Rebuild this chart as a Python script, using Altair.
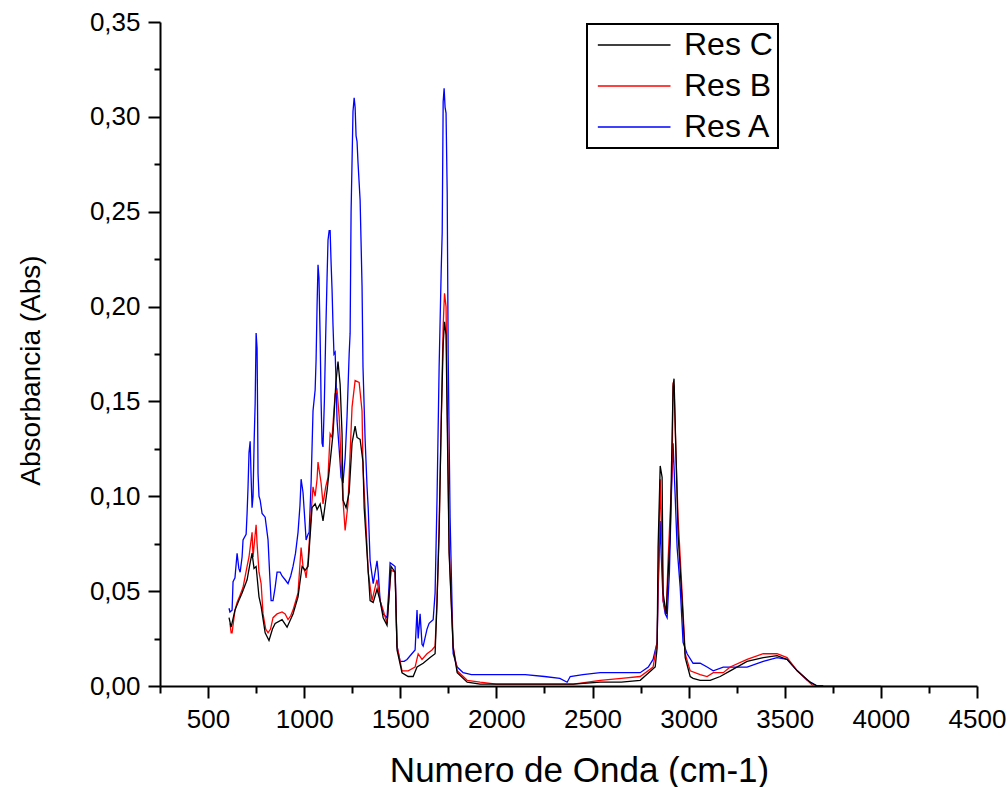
import altair as alt
import pandas as pd

# ---- data (wavenumber cm-1, absorbance) ----
wn_a = [609, 614, 625, 630, 640, 651, 660, 667, 677, 682, 698, 703, 708, 713, 719, 724, 729, 734, 740, 745,
        750, 755, 758, 760, 765, 771, 781, 797, 812, 820, 828, 838, 849, 859, 875, 885, 901, 916, 930, 942,
        955, 968, 978, 984, 994, 1005, 1010, 1020, 1026, 1036, 1046, 1057, 1062, 1067, 1072, 1077, 1083, 1088,
        1093, 1098, 1105, 1112, 1119, 1124, 1130, 1135, 1140, 1145, 1150, 1155, 1161, 1166, 1171, 1182, 1192,
        1202, 1213, 1223, 1234, 1239, 1244, 1254, 1260, 1265, 1270, 1275, 1280, 1291, 1301, 1306, 1317, 1327,
        1333, 1343, 1359, 1369, 1379, 1385, 1395, 1411, 1431, 1440, 1447, 1460, 1473, 1478, 1483, 1499, 1520,
        1535, 1560, 1577, 1587, 1593, 1603, 1613, 1619, 1639, 1650, 1671, 1681, 1691, 1702, 1713, 1718, 1723,
        1728, 1733, 1738, 1744, 1749, 1759, 1770, 1775, 1796, 1827, 1870, 1950, 2050, 2150, 2250, 2330, 2368,
        2384, 2450, 2540, 2650, 2748, 2790, 2815, 2836, 2841, 2852, 2857, 2867, 2878, 2888, 2900, 2910, 2919,
        2930, 2940, 2956, 2971, 2992, 3023, 3060, 3096, 3128, 3180, 3232, 3304, 3388, 3460, 3512, 3565, 3617,
        3669, 3700]
abs_a = [0.041, 0.039, 0.040, 0.055, 0.057, 0.070, 0.062, 0.060, 0.068, 0.077, 0.080, 0.091, 0.105, 0.123,
         0.129, 0.110, 0.094, 0.100, 0.130, 0.149, 0.186, 0.178, 0.140, 0.112, 0.100, 0.098, 0.091, 0.089,
         0.077, 0.060, 0.045, 0.045, 0.052, 0.060, 0.060, 0.058, 0.056, 0.054, 0.058, 0.063, 0.070, 0.081,
         0.095, 0.109, 0.102, 0.085, 0.077, 0.080, 0.081, 0.107, 0.145, 0.156, 0.172, 0.200, 0.222, 0.215,
         0.184, 0.150, 0.128, 0.126, 0.150, 0.185, 0.215, 0.235, 0.240, 0.240, 0.223, 0.209, 0.190, 0.175,
         0.176, 0.160, 0.140, 0.125, 0.110, 0.107, 0.120, 0.142, 0.175, 0.186, 0.250, 0.303, 0.310, 0.305,
         0.290, 0.287, 0.276, 0.256, 0.211, 0.168, 0.130, 0.105, 0.094, 0.066, 0.054, 0.060, 0.066, 0.060,
         0.045, 0.038, 0.036, 0.050, 0.065, 0.064, 0.063, 0.040, 0.021, 0.013, 0.013, 0.014, 0.017, 0.019,
         0.040, 0.025, 0.038, 0.022, 0.021, 0.030, 0.033, 0.035, 0.049, 0.098, 0.168, 0.220, 0.239, 0.308,
         0.315, 0.305, 0.302, 0.260, 0.175, 0.089, 0.039, 0.017, 0.010, 0.007, 0.006, 0.006, 0.006, 0.006,
         0.005, 0.004, 0.002, 0.005, 0.006, 0.007, 0.007, 0.007, 0.010, 0.014, 0.023, 0.049, 0.087, 0.070,
         0.045, 0.038, 0.036, 0.060, 0.100, 0.128, 0.100, 0.073, 0.052, 0.023, 0.017, 0.012, 0.012, 0.010,
         0.008, 0.010, 0.010, 0.010, 0.013, 0.015, 0.014, 0.008, 0.003, 0.000, 0.000]

wn_b = [614, 620, 625, 640, 651, 667, 682, 703, 713, 719, 729, 734, 745, 750, 755, 765, 776, 786, 800, 812,
        825, 838, 859, 885, 901, 916, 930, 942, 968, 984, 994, 1005, 1010, 1020, 1036, 1046, 1057, 1067, 1072,
        1088, 1098, 1112, 1124, 1135, 1145, 1161, 1171, 1182, 1192, 1202, 1213, 1228, 1249, 1265, 1286, 1301,
        1306, 1322, 1333, 1353, 1369, 1379, 1395, 1411, 1431, 1452, 1473, 1483, 1509, 1541, 1577, 1593, 1613,
        1639, 1665, 1681, 1691, 1702, 1713, 1723, 1730, 1738, 1744, 1754, 1775, 1796, 1848, 1915, 2000, 2100,
        2200, 2300, 2400, 2540, 2650, 2748, 2815, 2836, 2841, 2852, 2862, 2867, 2883, 2893, 2914, 2919, 2924,
        2935, 2945, 2966, 2982, 3008, 3060, 3096, 3128, 3180, 3216, 3304, 3388, 3460, 3512, 3565, 3617, 3648,
        3700, 3800, 4000]
abs_b = [0.033, 0.028, 0.028, 0.040, 0.044, 0.048, 0.052, 0.063, 0.068, 0.073, 0.081, 0.068, 0.080, 0.085,
         0.075, 0.060, 0.054, 0.038, 0.030, 0.028, 0.030, 0.036, 0.038, 0.039, 0.038, 0.035, 0.037, 0.040,
         0.049, 0.073, 0.063, 0.060, 0.057, 0.066, 0.091, 0.105, 0.100, 0.109, 0.118, 0.107, 0.096, 0.105,
         0.110, 0.133, 0.131, 0.154, 0.156, 0.142, 0.118, 0.098, 0.082, 0.096, 0.147, 0.161, 0.160, 0.145,
         0.115, 0.084, 0.060, 0.045, 0.052, 0.056, 0.045, 0.040, 0.033, 0.061, 0.060, 0.021, 0.008, 0.008,
         0.010, 0.017, 0.014, 0.017, 0.019, 0.021, 0.045, 0.084, 0.140, 0.190, 0.207, 0.200, 0.151, 0.072,
         0.021, 0.008, 0.003, 0.002, 0.001, 0.001, 0.001, 0.001, 0.001, 0.003, 0.004, 0.005, 0.010, 0.023,
         0.051, 0.109, 0.070, 0.045, 0.038, 0.066, 0.114, 0.160, 0.158, 0.119, 0.089, 0.049, 0.017, 0.008,
         0.006, 0.005, 0.007, 0.007, 0.010, 0.014, 0.017, 0.017, 0.015, 0.008, 0.003, 0.000, 0.000, 0.000,
         0.000]

wn_c = [609, 620, 640, 660, 677, 703, 719, 729, 739, 750, 765, 776, 797, 817, 835, 849, 885, 911, 942, 968,
        989, 1005, 1020, 1041, 1057, 1067, 1083, 1098, 1119, 1135, 1150, 1165, 1176, 1187, 1197, 1202, 1218,
        1234, 1249, 1265, 1275, 1291, 1306, 1312, 1327, 1343, 1359, 1379, 1395, 1411, 1431, 1452, 1473, 1483,
        1509, 1541, 1567, 1587, 1619, 1655, 1681, 1691, 1702, 1713, 1723, 1730, 1738, 1744, 1754, 1775, 1796,
        1848, 1915, 2000, 2200, 2400, 2540, 2650, 2748, 2826, 2836, 2841, 2852, 2862, 2867, 2883, 2904, 2919,
        2924, 2935, 2945, 2966, 2982, 3008, 3023, 3060, 3112, 3164, 3216, 3304, 3388, 3460, 3512, 3565, 3632,
        3669, 3700]
abs_c = [0.036, 0.031, 0.040, 0.045, 0.049, 0.056, 0.065, 0.070, 0.062, 0.063, 0.047, 0.042, 0.028, 0.024,
         0.030, 0.033, 0.035, 0.031, 0.038, 0.047, 0.063, 0.061, 0.063, 0.094, 0.096, 0.093, 0.096, 0.087,
         0.103, 0.118, 0.133, 0.160, 0.171, 0.159, 0.133, 0.098, 0.094, 0.102, 0.128, 0.137, 0.131, 0.130,
         0.118, 0.094, 0.070, 0.045, 0.044, 0.051, 0.045, 0.036, 0.032, 0.063, 0.060, 0.019, 0.007, 0.005,
         0.005, 0.010, 0.012, 0.015, 0.017, 0.044, 0.081, 0.140, 0.180, 0.192, 0.185, 0.140, 0.070, 0.020,
         0.007, 0.002, 0.001, 0.001, 0.001, 0.001, 0.002, 0.002, 0.003, 0.010, 0.020, 0.073, 0.116, 0.110,
         0.049, 0.038, 0.080, 0.158, 0.162, 0.119, 0.080, 0.045, 0.015, 0.005, 0.004, 0.003, 0.003, 0.005,
         0.008, 0.013, 0.015, 0.016, 0.014, 0.008, 0.002, 0.000, 0.000]

series_names = ["Res C", "Res B", "Res A"]
series_colors = ["#000000", "#ff0000", "#0000ff"]

x_ticks = list(range(250, 4501, 250))
y_ticks = [round(i * 0.025, 3) for i in range(15)]

frames = []
for name, wn, ab in [("Res A", wn_a, abs_a), ("Res B", wn_b, abs_b), ("Res C", wn_c, abs_c)]:
    frames.append(pd.DataFrame({"wn": wn, "abs": ab, "serie": name}))
df = pd.concat(frames, ignore_index=True)
df["ord"] = df.index

FONT = "Liberation Sans"

chart = alt.Chart(df).mark_line(strokeWidth=1.3, clip=True).encode(
    x=alt.X("wn:Q",
            scale=alt.Scale(domain=[250, 4500], nice=False, zero=False),
            axis=alt.Axis(values=x_ticks,
                          labelExpr="datum.value % 500 == 0 ? '' + datum.value : ''",
                          tickSize={"condition": {"test": "datum.value % 500 == 0", "value": 12}, "value": 7},
                          labelFlush=False, labelOverlap=False,
                          title="Numero de Onda (cm-1)",
                          titleX=419, titleY=84, titleBaseline="middle",
                          labelPadding=8)),
    y=alt.Y("abs:Q",
            scale=alt.Scale(domain=[0, 0.35], nice=False),
            axis=alt.Axis(values=y_ticks,
                          labelExpr="round(datum.value*1000) % 50 == 0 ? replace(format(datum.value, '.2f'), '.', ',') : ''",
                          tickSize={"condition": {"test": "round(datum.value*1000) % 50 == 0", "value": 12}, "value": 6},
                          labelFlush=False, labelOverlap=False,
                          title="Absorbancia (Abs)",
                          titleX=-129, titleY=348, titleAngle=-90, titleBaseline="middle", titleAlign="center",
                          labelPadding=8)),
    color=alt.Color("serie:N",
                    scale=alt.Scale(domain=series_names, range=series_colors),
                    legend=alt.Legend(title=None, orient="none", legendX=427, legendY=2,
                                      symbolType="M-2,0H6", symbolSize=330, symbolStrokeWidth=1.5,
                                      symbolOffset=8, labelOffset=52,
                                      labelFontSize=32, labelFont=FONT, labelColor="black",
                                      strokeColor="black", padding=5, rowPadding=9)),
    detail="serie:N",
    order="ord:Q",
).properties(
    width=817, height=664,
    autosize=alt.AutoSizeParams(type="none"),
    padding={"left": 160, "top": 22, "right": 31, "bottom": 101},
).configure_view(stroke=None).configure_axis(
    grid=False,
    domainColor="black", domainWidth=2,
    tickColor="black", tickWidth=2,
    labelFont=FONT, labelFontSize=26, labelColor="black",
    titleFont=FONT, titleColor="black", titleFontWeight="normal",
).configure_axisX(titleFontSize=35).configure_axisY(titleFontSize=28).configure_legend(
    strokeWidth=2
)

chart.save("out.html", embed_options={"renderer": "svg", "actions": False})
